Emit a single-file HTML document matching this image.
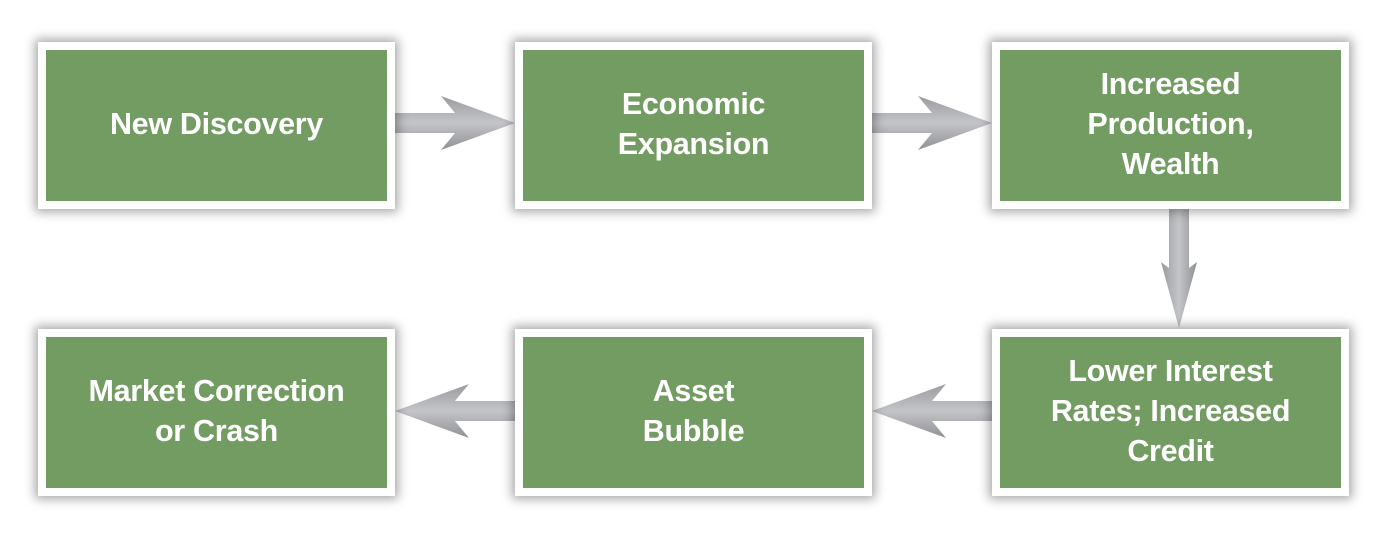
<!DOCTYPE html>
<html><head><style>
body{margin:0;width:1389px;height:537px;background:#fff;position:relative;overflow:hidden;font-family:"Liberation Sans",sans-serif}
.b{position:absolute;width:341px;height:151px;background:#739c63;border:8px solid #fff;box-shadow:0 0 10px 3px rgba(0,0,0,0.35);display:flex;align-items:center;justify-content:center;text-align:center;color:#fff;font-weight:bold;font-size:30.5px;line-height:40px;letter-spacing:-0.3px;padding-bottom:4px;box-sizing:content-box}
.b{height:147px}
svg{position:absolute;left:0;top:0}
</style></head><body>
<svg width="1389" height="537">
<defs>
<linearGradient id="h" x1="0" x2="0" y1="0" y2="1"><stop offset="0" stop-color="#9a9ba0"/><stop offset=".5" stop-color="#c4c5c8"/><stop offset="1" stop-color="#8f9095"/></linearGradient>
<linearGradient id="v" x1="0" x2="1" y1="0" y2="0"><stop offset="0" stop-color="#9a9ba0"/><stop offset=".5" stop-color="#c4c5c8"/><stop offset="1" stop-color="#8f9095"/></linearGradient>
</defs>
<polygon points="395,113 455,113 441,96 515,123 441,150 455,133 395,133" fill="url(#h)"/>
<polygon points="872,113 932,113 918,96 992,123 918,150 932,133 872,133" fill="url(#h)"/>
<polygon points="1169,208 1189,208 1189,268 1197,262 1179,328 1161,262 1169,268" fill="url(#v)"/>
<polygon points="992,401 932,401 946,384 872,411 946,438 932,421 992,421" fill="url(#h)"/>
<polygon points="515,401 455,401 469,384 395,411 469,438 455,421 515,421" fill="url(#h)"/>
</svg>
<div class="b" style="left:38px;top:42px">New Discovery</div>
<div class="b" style="left:515px;top:42px">Economic<br>Expansion</div>
<div class="b" style="left:992px;top:42px">Increased<br>Production,<br>Wealth</div>
<div class="b" style="left:38px;top:329px">Market Correction<br>or Crash</div>
<div class="b" style="left:515px;top:329px">Asset<br>Bubble</div>
<div class="b" style="left:992px;top:329px">Lower Interest<br>Rates; Increased<br>Credit</div>
</body></html>
